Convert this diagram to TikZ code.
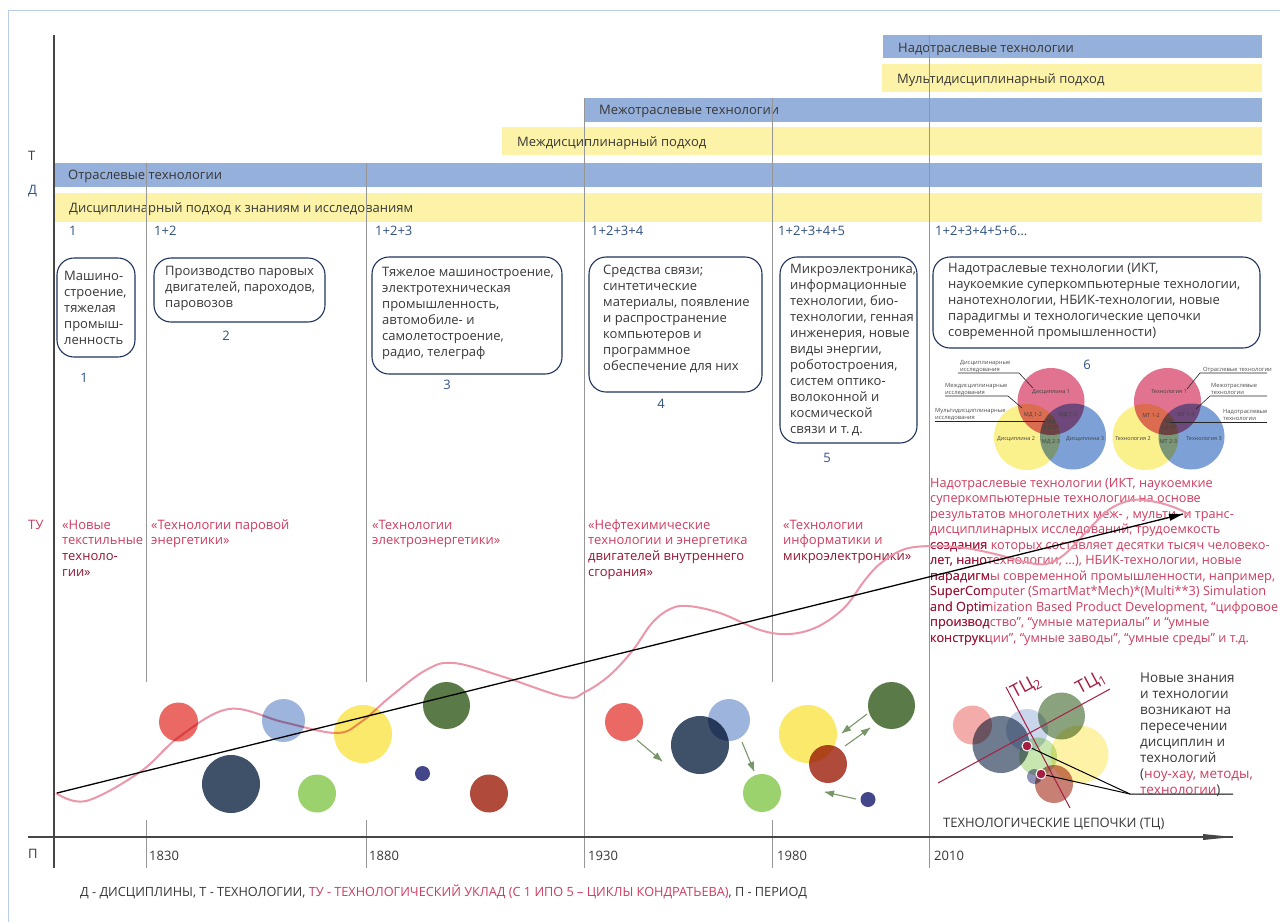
\documentclass[tikz,border=0pt]{standalone}
\usepackage{fontspec}
\setmainfont{Open Sans}
\usepackage{tikz}
\usepackage{xcolor}

\definecolor{framecol}{RGB}{185,205,232}
\definecolor{barblue}{RGB}{149,176,218}
\definecolor{baryellow}{RGB}{253,243,168}
\definecolor{periodgray}{RGB}{150,150,150}
\definecolor{axisgray}{RGB}{70,70,70}
\definecolor{txtgray}{RGB}{55,55,55}
\definecolor{numblue}{RGB}{47,80,130}
\definecolor{boxnavy}{RGB}{30,52,95}
\definecolor{tured}{RGB}{205,60,95}
\definecolor{tudark}{RGB}{150,20,50}
\definecolor{wave}{RGB}{236,150,170}
\definecolor{arrgreen}{RGB}{120,150,105}
\definecolor{tcred}{RGB}{165,30,65}
\definecolor{vpink}{RGB}{225,115,145}
\definecolor{vyellow}{RGB}{250,240,140}
\definecolor{vblue}{RGB}{125,160,215}
\definecolor{cred}{RGB}{234,105,100}
\definecolor{cnavy}{RGB}{63,80,105}
\definecolor{clblue}{RGB}{157,180,220}
\definecolor{clgreen}{RGB}{156,210,110}
\definecolor{cyellow}{RGB}{251,233,107}
\definecolor{cdgreen}{RGB}{90,122,72}
\definecolor{csnavy}{RGB}{67,71,137}
\definecolor{cbrick}{RGB}{176,74,58}

\newcommand{\supratext}{Надотраслевые технологии (ИКТ, наукоемкие\\суперкомпьютерные технологии на основе\\результатов многолетних меж-\ , мульти- и транс-\\дисциплинарных исследований, трудоемкость\\создания которых составляет десятки тысяч человеко-\\лет, нанотехнологии, …), НБИК-технологии, новые\\парадигмы современной промышленности, например,\\SuperComputer (SmartMat*Mech)*(Multi**3) Simulation\\and Optimization Based Product Development, “цифровое\\производство”, “умные материалы” и “умные\\конструкции”, “умные заводы”, “умные среды” и т.д.}

\begin{document}
\begin{tikzpicture}[x=1pt,y=1pt,yscale=-1,
	lbl/.style={inner sep=0pt,anchor=base west,font=\fontsize{13}{16}\selectfont},
	bartxt/.style={lbl,text=txtgray},
	num/.style={lbl,text=numblue},
	tutxt/.style={lbl,align=left,text=tured,font=\fontsize{13}{15.8}\selectfont},
	boxline/.style={draw=boxnavy,line width=1.1pt,rounded corners=17pt},
	boxtxt/.style={inner sep=0pt,anchor=west,align=left,text=txtgray,font=\fontsize{13}{16}\selectfont},
	vtxt/.style={inner sep=0pt,align=center,text=black!75,font=\fontsize{5.5}{6.6}\selectfont},
	vlead/.style={inner sep=0pt,anchor=base west,align=left,text=black!70,font=\fontsize{5.8}{7}\selectfont},
	leader/.style={draw=black!85,line width=0.6pt},
	period/.style={draw=periodgray,line width=0.8pt},
	garrow/.style={draw=arrgreen,line width=1.1pt}]
	\useasboundingbox (0,0) rectangle (1280,922);
	
	%Frame
	\draw[framecol,line width=1pt] (8,922) -- (8,10) -- (1280,10);
	
	%Bars
	\fill[barblue] (883,35) rectangle (1262,58);
	\fill[baryellow] (882,64) rectangle (1262,92);
	\fill[barblue] (584,98) rectangle (1262,122);
	\fill[baryellow] (502,127) rectangle (1262,155);
	\fill[barblue] (54,163) rectangle (1262,187);
	\fill[baryellow] (54,193) rectangle (1262,222);
	\node[bartxt] (nadotr) at (898,52) {Надотраслевые технологии};
	\node[bartxt] (multid) at (897,83) {Мультидисциплинарный подход};
	\node[bartxt] (mezhotr) at (599,114) {Межотраслевые технологии};
	\node[bartxt] (mezhd) at (517,146) {Междисциплинарный подход};
	\node[bartxt] (otr) at (68,179) {Отраслевые технологии};
	\node[bartxt] (discd) at (69,212) {Дисциплинарный подход к знаниям и исследованиям};
	
	%Axis and period lines
	\draw[axisgray,line width=1.2pt] (54,35) -- (54,868);
	\draw[period] (146,163) -- (146,682) (146,820) -- (146,868);
	\draw[period] (366,163) -- (366,682) (366,820) -- (366,868);
	\draw[period] (584,98) -- (584,868);
	\draw[period] (772,98) -- (772,682) (772,820) -- (772,868);
	\draw[period] (929,35) -- (929,868);
	
	%Row labels
	\node[lbl,text=txtgray] (rowT) at (28,160) {Т};
	\node[lbl,text=numblue] (rowD) at (28,194) {Д};
	\node[lbl,text=tured] (rowTU) at (28,529) {ТУ};
	\node[lbl,text=txtgray] (rowP) at (28,858) {П};
	
	%Wave numbers
	\node[num] (n1) at (69,235) {1};
	\node[num] (n2) at (154,235) {1+2};
	\node[num] (n3) at (375,235) {1+2+3};
	\node[num] (n4) at (591,235) {1+2+3+4};
	\node[num] (n5) at (778,235) {1+2+3+4+5};
	\node[num] (n6) at (935,235) {1+2+3+4+5+6…};
	
	%Boxes
	\draw[boxline] (57,258) rectangle (135,357);
	\node[boxtxt] (box1) at (64,307.5) {Машино-\\строение,\\тяжелая\\промыш-\\ленность};
	\draw[boxline] (154,258) rectangle (325,322);
	\node[boxtxt] (box2) at (165,288) {Производство паровых\\двигателей, пароходов,\\паровозов};
	\draw[boxline] (372,257) rectangle (562,374);
	\node[boxtxt] (box3) at (382,313) {Тяжелое машиностроение,\\электротехническая\\промышленность,\\автомобиле- и\\самолетостроение,\\радио, телеграф};
	\draw[boxline] (589,257) rectangle (762,392);
	\node[boxtxt] (box4) at (603,319) {Средства связи;\\синтетические\\материалы, появление\\и распространение\\компьютеров и\\программное\\обеспечение для них};
	\draw[boxline] (780,257) rectangle (917,443);
	\node[boxtxt] (box5) at (790,350) {Микроэлектроника,\\информационные\\технологии, био-\\технологии, генная\\инженерия, новые\\виды энергии,\\роботостроения,\\систем оптико-\\волоконной и\\космической\\связи и т.\,д.};
	\draw[boxline] (933,257) rectangle (1260,348);
	\node[boxtxt] (box6) at (948,301) {Надотраслевые технологии (ИКТ,\\наукоемкие суперкомпьютерные технологии,\\нанотехнологии, НБИК-технологии, новые\\парадигмы и технологические цепочки\\современной промышленности)};
	\node[num,anchor=base] (b1) at (84,382) {1};
	\node[num,anchor=base] (b2) at (226,340) {2};
	\node[num,anchor=base] (b3) at (447,389) {3};
	\node[num,anchor=base] (b4) at (661,408) {4};
	\node[num,anchor=base] (b5) at (827,462) {5};
	\node[num,anchor=base] (b6) at (1087,369) {6};
	
	%Venn diagrams
	\begin{scope}[blend group=multiply]
		\fill[vpink] (1051,401.5) circle (33.5);
		\fill[vyellow] (1027,437) circle (33);
		\fill[vblue] (1073,436.5) circle (33);
		\fill[vpink] (1167.5,401.5) circle (33.5);
		\fill[vyellow] (1145.5,437) circle (33);
		\fill[vblue] (1191.5,436.5) circle (33);
	\end{scope}
	\node[vtxt] (d1) at (1051,392) {Дисциплина 1};
	\node[vtxt] (md12) at (1033,415) {МД 1-2};
	\node[vtxt] (md13) at (1068,415) {МД 1-3};
	\node[vtxt] (md123) at (1051,424.5) {МД\\1-2-3*};
	\node[vtxt] (d2) at (1016,439) {Дисциплина 2};
	\node[vtxt] (md23) at (1051,442) {МД 2-3};
	\node[vtxt] (d3) at (1085,439) {Дисциплина 3};
	\node[vtxt] (t1) at (1169,392) {Технология 1};
	\node[vtxt] (mt12) at (1151,415) {МТ 1-2};
	\node[vtxt] (mt13) at (1186,415) {МТ 1-3};
	\node[vtxt] (mt123) at (1168.5,424.5) {МТ\\1-2-3*};
	\node[vtxt] (t2) at (1133,439) {Технология 2};
	\node[vtxt] (mt23) at (1168.5,442) {МТ 2-3};
	\node[vtxt] (t3) at (1204,439) {Технология 3};
	\node[vlead] (ldisc) at (960,371) {Дисциплинарные\\исследования};
	\node[vlead] (lmezh) at (945,394) {Междисциплинарные\\исследования};
	\node[vlead] (lmult) at (935,419) {Мультидисциплинарные\\исследования};
	\node[vlead] (rotr) at (1203,371) {Отраслевые технологии};
	\node[vlead] (rmezh) at (1211,394) {Межотраслевые\\технологии};
	\node[vlead] (rnad) at (1223,420) {Надотраслевые\\технологии};
	\draw[leader] (958,373) -- (1019,373) -- (1033,388);
	\draw[leader] (945,396) -- (1008,396) -- (1022,408);
	\draw[leader] (935,421) -- (1045,421);
	\draw[leader] (1267,373) -- (1200,373) -- (1187,389);
	\draw[leader] (1267,396) -- (1210,396) -- (1196,409);
	\draw[leader] (1267,422) -- (1170,422);
	
	%Technological paradigms (base anchor sits on the last line)
	\node[tutxt] (tu1) at (62,576.4) {«Новые\\текстильные\\\textcolor{tudark}{техноло-}\\\textcolor{tudark}{гии»}};
	\node[tutxt] (tu2) at (151,544.8) {«Технологии паровой\\энергетики»};
	\node[tutxt] (tu3) at (372,544.8) {«Технологии\\электроэнергетики»};
	\node[tutxt] (tu4) at (588,576.4) {«Нефтехимические\\технологии и энергетика\\\textcolor{tudark}{двигателей внутреннего}\\\textcolor{tudark}{сгорания»}};
	\node[tutxt] (tu5) at (783,560.6) {«Технологии\\информатики и\\\textcolor{tudark}{микроэлектроники»}};
	\node[tutxt,font=\fontsize{12.7}{15.5}\selectfont] (supra) at (930,642) {\supratext};
	\begin{scope}
		\clip (926,538) rectangle (988,650);
		\node[tutxt,font=\fontsize{12.7}{15.5}\selectfont,text=tudark] (supradark) at (930,642) {\supratext};
	\end{scope}
	
	%Circles and wave
	\begin{scope}[blend group=multiply]
		\fill[cred] (178.5,722) circle (19.5);
		\fill[cnavy] (231,784) circle (29);
		\fill[clblue] (283.5,720.5) circle (21.5);
		\fill[clgreen] (317,793.5) circle (19);
		\fill[cyellow] (363,734) circle (29);
		\fill[cdgreen] (446.5,705.5) circle (23.5);
		\fill[csnavy] (422.5,773.5) circle (7.5);
		\fill[cbrick] (489,793.5) circle (19);
		\fill[cred] (624,722) circle (19);
		\fill[cnavy] (700,745) circle (29);
		\fill[clblue] (729,720) circle (21);
		\fill[clgreen] (762,793) circle (19);
		\fill[cyellow] (808,734) circle (29);
		\fill[cbrick] (828,764) circle (19);
		\fill[cdgreen] (891.5,705.5) circle (23.5);
		\fill[csnavy] (868,799.5) circle (7.5);
		\fill[cred!55] (972.5,725) circle (19.5);
		\fill[cnavy!75] (1001,744.5) circle (28.5);
		\fill[clblue!55] (1027,730) circle (21);
		\fill[cdgreen!70] (1061.5,716) circle (23.5);
		\fill[cyellow!60] (1079.5,754.5) circle (29);
		\fill[clgreen!55] (1038,756.5) circle (19);
		\fill[csnavy!60] (1034.5,776.5) circle (7.5);
		\fill[cbrick!70] (1054,784) circle (19);
		\draw[wave,line width=2pt] plot[smooth,tension=0.6] coordinates {(56,793) (86,801) (140,772) (179,737) (229,709) (283,722) (336,733) (361,722) (390,697) (426,670) (454,663) (504,677) (565,697) (585,692) (610,675) (633,650) (652,623) (670,609) (688,606) (720,613) (760,630) (789,634) (817,627) (844,608) (865,580) (881,563) (905,549) (935,546) (965,548) (995,554) (1025,562) (1046,564) (1065,554) (1088,530) (1110,509) (1133,500) (1156,502) (1176,508) (1190,515)};
	\end{scope}
	
	%Trend arrow
	\coordinate (lstart) at (57,793);
	\coordinate (ltip) at (1183,514);
	\draw[line width=1.3pt] (lstart) -- (ltip);
	\fill[shift={(ltip)},rotate=166.08] (14,-3.5) -- (0,0) -- (14,3.5) -- cycle;
	
	%Green arrows
	\coordinate (a1s) at (637,740); \coordinate (a1e) at (662,761);
	\coordinate (a2s) at (742,742); \coordinate (a2e) at (754,771);
	\coordinate (a3s) at (867,714); \coordinate (a3e) at (842,733);
	\coordinate (a4s) at (845,746); \coordinate (a4e) at (870,728);
	\coordinate (a5s) at (856,799); \coordinate (a5e) at (825,792);
	\draw[garrow] (a1s) -- (a1e);
	\fill[arrgreen,shift={(a1e)},rotate=220.03] (9,-3.5) -- (0,0) -- (9,3.5) -- cycle;
	\draw[garrow] (a2s) -- (a2e);
	\fill[arrgreen,shift={(a2e)},rotate=247.52] (9,-3.5) -- (0,0) -- (9,3.5) -- cycle;
	\draw[garrow] (a3s) -- (a3e);
	\fill[arrgreen,shift={(a3e)},rotate=322.8] (9,-3.5) -- (0,0) -- (9,3.5) -- cycle;
	\draw[garrow] (a4s) -- (a4e);
	\fill[arrgreen,shift={(a4e)},rotate=144.25] (9,-3.5) -- (0,0) -- (9,3.5) -- cycle;
	\draw[garrow] (a5s) -- (a5e);
	\fill[arrgreen,shift={(a5e)},rotate=12.7] (9,-3.5) -- (0,0) -- (9,3.5) -- cycle;
	
	%Technological chains
	\draw[tcred,line width=1pt] (938,783) -- (1110,689);
	\draw[tcred,line width=1pt] (1006,687) -- (1070,808);
	\node[inner sep=0pt,text=tcred,rotate=28,font=\fontsize{18}{18}\selectfont] (tc1) at (1091,683) {ТЦ\textsubscript{1}};
	\node[inner sep=0pt,text=tcred,rotate=28,font=\fontsize{18}{18}\selectfont] (tc2) at (1026,687) {ТЦ\textsubscript{2}};
	\coordinate (dot1) at (1027,746);
	\coordinate (dot2) at (1041,774);
	\coordinate (joint) at (1130,794);
	\coordinate (lend) at (1233,794);
	\draw[line width=1pt] (dot1) -- (joint) -- (lend);
	\draw[line width=1pt] (dot2) -- (joint);
	\fill[tcred,draw=white,line width=1pt] (dot1) circle (5);
	\fill[tcred,draw=white,line width=1pt] (dot2) circle (5);
	\node[lbl,align=left,text=txtgray,font=\fontsize{13.5}{16}\selectfont] (newk) at (1140,794) {Новые знания\\и технологии\\возникают на\\пересечении\\дисциплин и\\технологий\\(\textcolor{tured}{ноу-хау, методы,}\\\textcolor{tured}{технологии})};
	\node[lbl,text=txtgray] (chains) at (943,827) {ТЕХНОЛОГИЧЕСКИЕ ЦЕПОЧКИ (ТЦ)};
	
	%Time axis
	\coordinate (tstart) at (28,837);
	\coordinate (ttip) at (1233,837);
	\draw[axisgray,line width=1.5pt] (tstart) -- (ttip);
	\fill[axisgray,shift={(ttip)},rotate=180] (30,-3) -- (0,0) -- (30,3) -- cycle;
	\node[lbl,text=txtgray] (y1830) at (149,860) {1830};
	\node[lbl,text=txtgray] (y1880) at (369,860) {1880};
	\node[lbl,text=txtgray] (y1930) at (588,860) {1930};
	\node[lbl,text=txtgray] (y1980) at (777,860) {1980};
	\node[lbl,text=txtgray] (y2010) at (934,860) {2010};
	
	%Legend
	\node[lbl,text=txtgray,font=\fontsize{12.7}{15}\selectfont] (legend) at (80,896) {Д - ДИСЦИПЛИНЫ, Т - ТЕХНОЛОГИИ, \textcolor{tured}{ТУ - ТЕХНОЛОГИЧЕСКИЙ УКЛАД (С 1 ИПО 5 – ЦИКЛЫ КОНДРАТЬЕВА)}, П - ПЕРИОД};
\end{tikzpicture}
\end{document}
